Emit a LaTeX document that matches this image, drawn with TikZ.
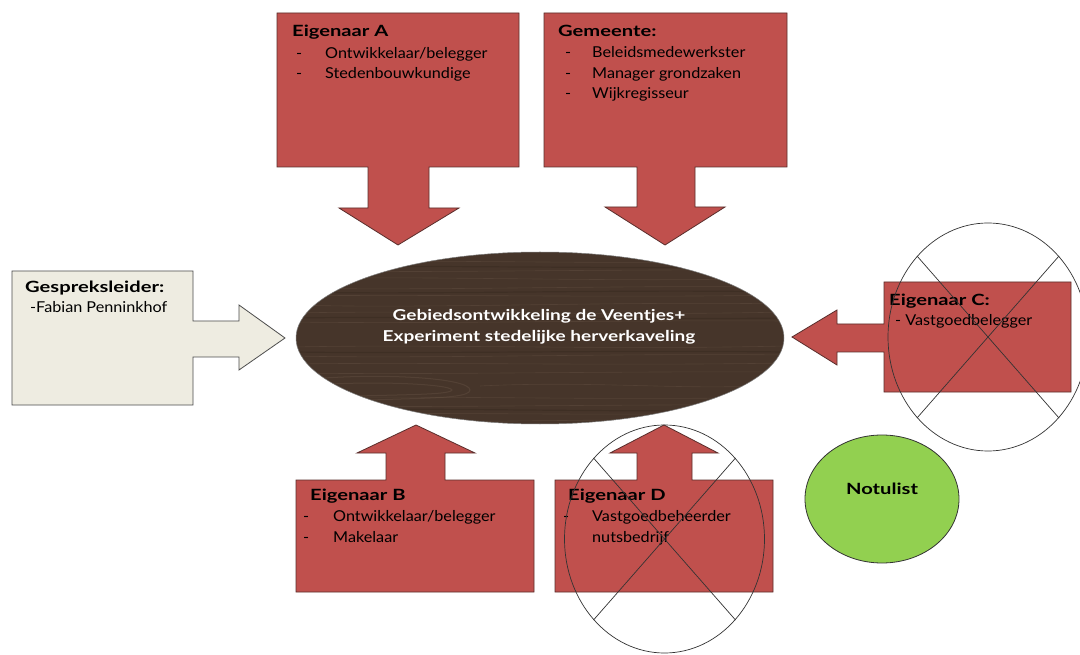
\documentclass[tikz,border=0pt]{standalone}
\usepackage{fontspec}
\setmainfont{Lato}
\newfontfamily\tfont{Lato}[FakeStretch=1.3]
\newfontfamily\efont{Lato}[FakeStretch=1.27]
\newfontfamily\rfont{Lato}[FakeStretch=1.08]
\definecolor{boxred}{HTML}{C0504D}
\definecolor{boxline}{HTML}{5A2E2C}
\definecolor{paper}{HTML}{EEECE1}
\definecolor{wood}{HTML}{46352A}
\definecolor{woodlight}{HTML}{6E5A4A}
\definecolor{wooddark}{HTML}{34261D}
\definecolor{notgreen}{HTML}{92D050}
\begin{document}
\begin{tikzpicture}[x=1pt,y=-1pt,
  redshape/.style={fill=boxred,draw=boxline,line width=0.8pt},
  papershape/.style={fill=paper,draw=black!70,line width=0.8pt},
  crossout/.style={draw=black!80,line width=0.7pt},
  ttl/.style={anchor=base west,inner sep=0pt,font=\tfont\bfseries\fontsize{15.5}{17}\selectfont},
  txt/.style={anchor=base west,inner sep=0pt,font=\rfont\fontsize{15}{17}\selectfont},
  streak/.style={draw=woodlight,line width=0.6pt,opacity=0.35},
  dstreak/.style={draw=wooddark,line width=1.2pt,opacity=0.4}]
\useasboundingbox (0,0) rectangle (1080,655);
\clip (0,0) rectangle (1080,655);
\fill[white] (0,0) rectangle (1080,655);

% Eigenaar A
\draw[redshape] (277,13) -- (519,13) -- (519,167) -- (429,167) -- (429,208) -- (459,208)
  -- (398,245) -- (339,208) -- (368,208) -- (368,167) -- (277,167) -- cycle;
% Gemeente
\draw[redshape] (544,13) -- (787,13) -- (787,167) -- (695,167) -- (695,207) -- (725,207)
  -- (665,245) -- (605,207) -- (637,207) -- (637,167) -- (544,167) -- cycle;
% Gespreksleider
\draw[papershape] (12,271) -- (193,271) -- (193,321) -- (239,321) -- (239,305) -- (285,338)
  -- (239,370) -- (239,357) -- (193,357) -- (193,405) -- (12,405) -- cycle;
% Eigenaar C
\draw[redshape] (884,282) -- (1071,282) -- (1071,392) -- (884,392) -- (884,352) -- (837,352)
  -- (837,365) -- (792,337) -- (837,310) -- (837,324) -- (884,324) -- cycle;
% Eigenaar B
\draw[redshape] (296,480) -- (386,480) -- (386,453) -- (357,453) -- (416,425) -- (475,453)
  -- (445,453) -- (445,480) -- (534,480) -- (534,592) -- (296,592) -- cycle;
% Eigenaar D
\draw[redshape] (555,480) -- (637,480) -- (637,453) -- (610,453) -- (664,425) -- (718,453)
  -- (692,453) -- (692,480) -- (773,480) -- (773,592) -- (555,592) -- cycle;

% central ellipse with wood look
\begin{scope}
  \clip (540,338) ellipse [x radius=244, y radius=86];
  \fill[wood] (296,250) rectangle (784,426);
  \foreach \y/\d in {262/3,271/-2,279/4,288/-3,296/2,305/-4,313/3,322/-2,347/3,356/-3,364/2,373/-2,398/3,406/-2,414/2,421/-3}{
    \draw[streak] (296,\y) .. controls (420,\y-\d) and (620,\y+\d) .. (784,\y-1);
  }
  \foreach \y/\d in {267/-2,292/3,318/-2,352/2,410/-3}{
    \draw[dstreak] (296,\y) .. controls (420,\y+\d) and (620,\y-\d) .. (784,\y);
  }
  \draw[streak,line width=1pt] (300,380) .. controls (380,372) and (470,378) .. (470,390) .. controls (470,402) and (380,396) .. (320,404);
  \draw[streak,line width=1pt] (300,386) .. controls (370,380) and (450,384) .. (452,390) .. controls (450,396) and (380,394) .. (310,398);
  \draw[streak] (480,386) .. controls (600,380) and (700,392) .. (784,384);
\end{scope}
\draw[draw=black!50,line width=0.5pt] (540,338) ellipse [x radius=244, y radius=86];
\node[inner sep=0pt,text=white,align=center,font=\efont\bfseries\fontsize{15}{21}\selectfont]
  (centre) at (539,327) {Gebiedsontwikkeling de Veentjes+\\Experiment stedelijke herverkaveling};

% Notulist
\draw[fill=notgreen,draw=black!80,line width=0.8pt] (882,499) ellipse [x radius=77, y radius=64];
\node[inner sep=0pt,anchor=base,font=\tfont\bfseries\fontsize{15.5}{17}\selectfont] (notulist) at (882,494) {Notulist};

% texts
\node[ttl] (tA) at (292,37) {Eigenaar A};
\node[txt] (dA1) at (296,59) {-};
\node[txt] (dA2) at (296,79) {-};
\node[txt] (a1) at (325,59) {Ontwikkelaar/belegger};
\node[txt] (a2) at (325,79) {Stedenbouwkundige};

\node[ttl] (tG) at (558,37) {Gemeente:};
\node[txt] (dG1) at (565,58) {-};
\node[txt] (dG2) at (565,79) {-};
\node[txt] (dG3) at (565,99) {-};
\node[txt] (g1) at (592,58) {Beleidsmedewerkster};
\node[txt] (g2) at (592,79) {Manager grondzaken};
\node[txt] (g3) at (592,99) {Wijkregisseur};

\node[ttl] (tL) at (25,293) {Gespreksleider:};
\node[txt] (l1) at (30,313) {-Fabian Penninkhof};

\node[ttl] (tC) at (889,306) {Eigenaar C:};
\node[txt] (c1) at (895,326) {- Vastgoedbelegger};

\node[ttl] (tB) at (310,500) {Eigenaar B};
\node[txt] (dB1) at (303,521) {-};
\node[txt] (dB2) at (303,542) {-};
\node[txt] (b1) at (333,521) {Ontwikkelaar/belegger};
\node[txt] (b2) at (333,542) {Makelaar};

\node[ttl] (tD) at (568,500) {Eigenaar D};
\node[txt] (dD1) at (563,521) {-};
\node[txt] (d1) at (592,521) {Vastgoedbeheerder};
\node[txt] (d2) at (592,542) {nutsbedrijf};

% crossed-out circles
\draw[crossout] (988,337) ellipse [x radius=100, y radius=114];
\draw[crossout] (917,256) -- (1059,418);
\draw[crossout] (1059,256) -- (917,418);
\draw[crossout] (664.5,539) ellipse [x radius=100, y radius=114];
\draw[crossout] (593.5,458) -- (735.5,620);
\draw[crossout] (735.5,458) -- (593.5,620);
\end{tikzpicture}
\end{document}
